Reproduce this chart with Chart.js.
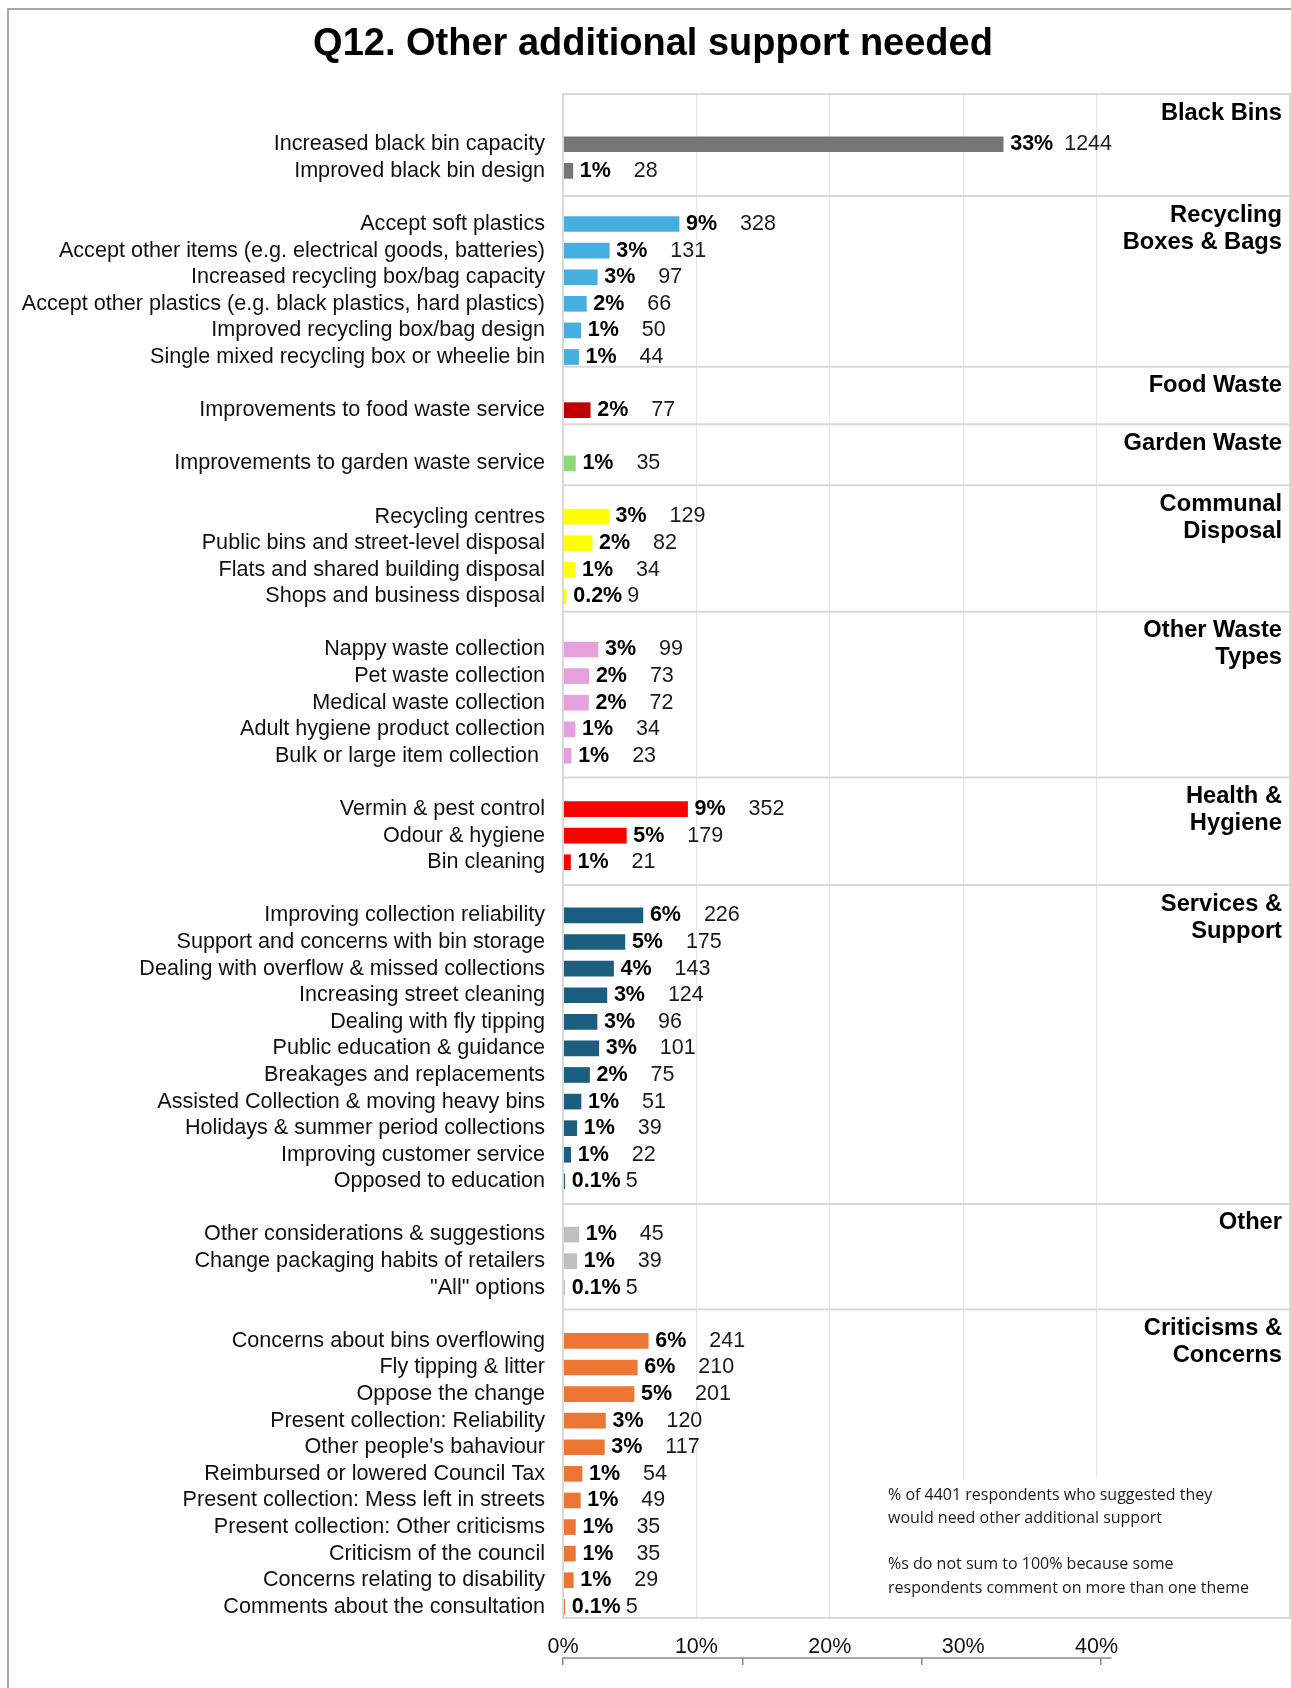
<!DOCTYPE html>
<html>
<head>
<meta charset="utf-8">
<title>Q12. Other additional support needed</title>
<script src="https://cdn.jsdelivr.net/npm/chart.js@4.4.1/dist/chart.umd.min.js"></script>
<style>
  html, body { margin: 0; padding: 0; background: #fff; }
  #chart { display: block; }
</style>
</head>
<body>
<canvas id="chart" width="1291" height="1688"></canvas>
<script>
const groupNames = [
    'Black Bins', 'Recycling\nBoxes & Bags', 'Food Waste', 'Garden Waste', 'Communal\nDisposal',
    'Other Waste\nTypes', 'Health &\nHygiene', 'Services &\nSupport', 'Other', 'Criticisms &\nConcerns'
];
const groupColors = [
    '#767676', '#47aee0', '#c00000', '#8fd87a', '#ffff00',
    '#e6a0dc', '#ff0000', '#1b5e80', '#bfbfbf', '#ed7634'
];

const categories = [
    'Increased black bin capacity',
    'Improved black bin design',
    'Accept soft plastics',
    'Accept other items (e.g. electrical goods, batteries)',
    'Increased recycling box/bag capacity',
    'Accept other plastics (e.g. black plastics, hard plastics)',
    'Improved recycling box/bag design',
    'Single mixed recycling box or wheelie bin',
    'Improvements to food waste service',
    'Improvements to garden waste service',
    'Recycling centres',
    'Public bins and street-level disposal',
    'Flats and shared building disposal',
    'Shops and business disposal',
    'Nappy waste collection',
    'Pet waste collection',
    'Medical waste collection',
    'Adult hygiene product collection',
    'Bulk or large item collection ',
    'Vermin & pest control',
    'Odour & hygiene',
    'Bin cleaning',
    'Improving collection reliability',
    'Support and concerns with bin storage',
    'Dealing with overflow & missed collections',
    'Increasing street cleaning',
    'Dealing with fly tipping',
    'Public education & guidance',
    'Breakages and replacements',
    'Assisted Collection & moving heavy bins',
    'Holidays & summer period collections',
    'Improving customer service',
    'Opposed to education',
    'Other considerations & suggestions',
    'Change packaging habits of retailers',
    '"All" options',
    'Concerns about bins overflowing',
    'Fly tipping & litter',
    'Oppose the change',
    'Present collection: Reliability',
    "Other people's bahaviour",
    'Reimbursed or lowered Council Tax',
    'Present collection: Mess left in streets',
    'Present collection: Other criticisms',
    'Criticism of the council',
    'Concerns relating to disability',
    'Comments about the consultation'
];
const categoryGroup = [
    0, 0,
    1, 1, 1, 1, 1, 1,
    2,
    3,
    4, 4, 4, 4,
    5, 5, 5, 5, 5,
    6, 6, 6,
    7, 7, 7, 7, 7, 7, 7, 7, 7, 7, 7,
    8, 8, 8,
    9, 9, 9, 9, 9, 9, 9, 9, 9, 9, 9
];
// bar lengths in %
const barValues = [
    33.0, 0.74,
    8.70, 3.47, 2.57, 1.75, 1.33, 1.17,
    2.04,
    0.93,
    3.42, 2.18, 0.90, 0.24,
    2.63, 1.94, 1.91, 0.90, 0.61,
    9.34, 4.75, 0.56,
    5.99, 4.64, 3.79, 3.29, 2.55, 2.68, 1.99, 1.35, 1.03, 0.58, 0.13,
    1.19, 1.03, 0.13,
    6.39, 5.57, 5.33, 3.18, 3.10, 1.43, 1.30, 0.93, 0.93, 0.77, 0.13
];
const percentLabels = [
    '33%', '1%',
    '9%', '3%', '3%', '2%', '1%', '1%',
    '2%',
    '1%',
    '3%', '2%', '1%', '0.2%',
    '3%', '2%', '2%', '1%', '1%',
    '9%', '5%', '1%',
    '6%', '5%', '4%', '3%', '3%', '3%', '2%', '1%', '1%', '1%', '0.1%',
    '1%', '1%', '0.1%',
    '6%', '6%', '5%', '3%', '3%', '1%', '1%', '1%', '1%', '1%', '0.1%'
];
const counts = [
    1244, 28,
    328, 131, 97, 66, 50, 44,
    77,
    35,
    129, 82, 34, 9,
    99, 73, 72, 34, 23,
    352, 179, 21,
    226, 175, 143, 124, 96, 101, 75, 51, 39, 22, 5,
    45, 39, 5,
    241, 210, 201, 120, 117, 54, 49, 35, 35, 29, 5
];
const xTickValues = [0, 10, 20, 30, 40];
const noteLines = [
    '% of 4401 respondents who suggested they',
    'would need other additional support',
    '',
    '%s do not sum to 100% because some',
    'respondents comment on more than one theme'
];

// layout, in row units of the y scale
const groupTops = [-1.89, 1.95, 8.37, 10.53, 12.82, 17.58, 23.81, 27.86, 39.85, 43.82];
const plotBottom = 55.42;

const FONT = "'Liberation Sans', Arial, sans-serif";
Chart.defaults.font.family = FONT;
Chart.defaults.color = '#111';

// one empty row between groups
const rows = categories.map((c, i) => i + categoryGroup[i]);
const labelByRow = {};
rows.forEach((r, i) => { labelByRow[r] = categories[i]; });

const decorations = {
    id: 'decorations',
    afterDatasetsDraw(chart) {
        const ctx = chart.ctx;
        const { left, right, top, bottom } = chart.chartArea;
        const y = chart.scales.y;
        const x2 = chart.scales.x2;
        ctx.save();

        // note box hides the grid behind it
        ctx.fillStyle = '#fff';
        ctx.fillRect(876, 1478, right - 877, bottom - 1479);

        // plot frame and group separators
        ctx.strokeStyle = '#d9d9d9';
        ctx.lineWidth = 2;
        ctx.strokeRect(left, top, right - left, bottom - top);
        groupTops.forEach(g => {
            const py = y.getPixelForValue(g);
            ctx.beginPath();
            ctx.moveTo(left, py);
            ctx.lineTo(right, py);
            ctx.stroke();
        });

        // group titles
        ctx.fillStyle = '#000';
        ctx.font = 'bold 23.7px ' + FONT;
        ctx.textAlign = 'right';
        ctx.textBaseline = 'middle';
        groupNames.forEach((name, g) => {
            const py = y.getPixelForValue(groupTops[g]) + 19;
            name.split('\n').forEach((line, k) => {
                ctx.fillText(line, right - 8, py + k * 27);
            });
        });

        // value labels
        const meta = chart.getDatasetMeta(0);
        ctx.textAlign = 'left';
        meta.data.forEach((bar, i) => {
            ctx.fillStyle = '#000';
            ctx.font = 'bold 21.5px ' + FONT;
            ctx.fillText(percentLabels[i], bar.x + 7, bar.y);
            ctx.fillStyle = '#1a1a1a';
            ctx.font = '21.5px ' + FONT;
            ctx.fillText(String(counts[i]), bar.x + 61, bar.y);
        });

        // note
        ctx.fillStyle = '#1a1a1a';
        ctx.font = "16px 'Open Sans', 'Noto Sans', sans-serif";
        noteLines.forEach((line, k) => {
            ctx.fillText(line, 888, 1495 + k * 23.25);
        });

        // stray lower axis line
        ctx.strokeStyle = '#8a8a8a';
        ctx.lineWidth = 1.5;
        ctx.beginPath();
        ctx.moveTo(x2.getPixelForValue(0) - 1, x2.top);
        ctx.lineTo(x2.getPixelForValue(30.6), x2.top);
        ctx.stroke();

        // outer frame
        ctx.strokeStyle = '#8c8c8c';
        ctx.beginPath();
        ctx.moveTo(8, chart.height);
        ctx.lineTo(8, 9);
        ctx.lineTo(chart.width, 9);
        ctx.stroke();
        ctx.restore();
    }
};

new Chart(document.getElementById('chart').getContext('2d'), {
    type: 'bar',
    data: {
        datasets: [{
            data: barValues.map((v, i) => ({ x: v, y: rows[i] })),
            backgroundColor: categoryGroup.map(g => groupColors[g]),
            borderWidth: 0,
            barThickness: 15
        }]
    },
    options: {
        indexAxis: 'y',
        responsive: false,
        animation: false,
        layout: { padding: { left: 16, right: 1, top: 0, bottom: 23 } },
        plugins: {
            legend: { display: false },
            tooltip: { enabled: false },
            title: {
                display: true,
                text: 'Q12. Other additional support needed',
                color: '#000',
                font: { size: 38, weight: 'bold' },
                padding: { top: 21.5, bottom: 26.9 }
            }
        },
        scales: {
            y: {
                type: 'linear',
                reverse: true,
                offset: false,
                min: groupTops[0],
                max: plotBottom,
                afterBuildTicks: axis => { axis.ticks = rows.map(r => ({ value: r })); },
                afterFit: axis => { axis.width = 547; },
                grid: { display: false, drawTicks: false, offset: false },
                border: { display: false },
                ticks: {
                    autoSkip: false,
                    padding: 18,
                    color: '#111',
                    font: { size: 21.6 },
                    callback: v => labelByRow[v] || ''
                }
            },
            x: {
                type: 'linear',
                min: 0,
                max: 54.5,
                afterBuildTicks: axis => { axis.ticks = xTickValues.map(v => ({ value: v })); },
                afterFit: axis => { axis.height = 40; },
                grid: { color: '#e6e6e6', lineWidth: 1, drawTicks: false },
                border: { display: false },
                ticks: {
                    padding: 16.4,
                    color: '#111',
                    font: { size: 21.5 },
                    maxRotation: 0,
                    callback: v => v + '%'
                }
            },
            x2: {
                type: 'linear',
                position: 'bottom',
                min: 0,
                max: 40.55,
                afterBuildTicks: axis => { axis.ticks = [0, 10, 20, 30].map(v => ({ value: v })); },
                grid: { drawOnChartArea: false, drawTicks: true, tickLength: 7, color: '#8a8a8a', lineWidth: 1.5 },
                border: { display: false },
                ticks: { display: false }
            }
        }
    },
    plugins: [decorations]
});
</script>
</body>
</html>
